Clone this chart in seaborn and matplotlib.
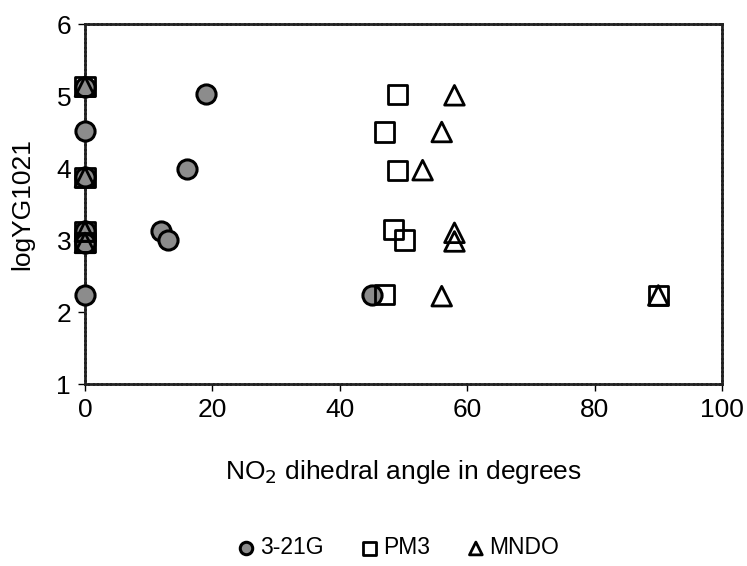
import matplotlib
matplotlib.use("Agg")
import matplotlib.pyplot as plt
import seaborn as sns
import pandas as pd

sns.set_style("white")
plt.rcParams['font.family'] = ['Liberation Sans', 'DejaVu Sans']
plt.rcParams['text.color'] = 'black'
plt.rcParams['axes.labelcolor'] = 'black'
plt.rcParams['xtick.color'] = 'black'
plt.rcParams['ytick.color'] = 'black'

# 3-21G
x_321g = [0, 0, 0, 0, 0, 0, 19, 16, 12, 13, 45]
y_321g = [5.13, 4.52, 3.87, 3.12, 2.96, 2.24, 5.03, 3.98, 3.13, 3.00, 2.24]
# PM3
x_pm3 = [0, 0, 0, 0, 49, 47, 49, 48.4, 50.2, 47, 90]
y_pm3 = [5.13, 3.87, 3.12, 2.96, 5.02, 4.50, 3.97, 3.14, 3.00, 2.24, 2.23]
# MNDO
x_mndo = [0, 0, 0, 0, 58, 56, 53, 58, 58, 56, 90]
y_mndo = [5.13, 3.87, 3.12, 2.96, 5.01, 4.50, 3.97, 3.10, 2.98, 2.22, 2.23]

series_names = ["3-21G", "PM3", "MNDO"]
x_ticks = [0, 20, 40, 60, 80, 100]
y_ticks = [1, 2, 3, 4, 5, 6]

df = pd.concat([
    pd.DataFrame({"x": x_321g, "y": y_321g, "method": series_names[0]}),
    pd.DataFrame({"x": x_pm3, "y": y_pm3, "method": series_names[1]}),
    pd.DataFrame({"x": x_mndo, "y": y_mndo, "method": series_names[2]}),
])

FS = 19
fig = plt.figure(figsize=(7.47, 5.66), dpi=100)
ax = fig.add_axes([85/747, 1-384/566, (722-85)/747, (384-24)/566])

styles = {
    "3-21G": dict(marker="o", s=190, facecolor="#8c8c8c", edgecolor="black", linewidth=2.2),
    "PM3": dict(marker="s", s=190, facecolor="none", edgecolor="black", linewidth=2.0),
    "MNDO": dict(marker="^", s=200, facecolor="none", edgecolor="black", linewidth=2.0),
}
for name in series_names:
    sub = df[df["method"] == name]
    sns.scatterplot(data=sub, x="x", y="y", ax=ax, label=name, zorder=3, clip_on=False,
                    **styles[name])

ax.set_xlim(0, 100)
ax.set_ylim(1, 6)
ax.set_xticks(x_ticks)
ax.set_yticks(y_ticks)
ax.tick_params(axis="both", labelsize=FS, direction="out", length=5, width=1,
               left=True, bottom=True, pad=5, colors="black")
for sp in ax.spines.values():
    sp.set_visible(True)
    sp.set_color("#222222")
    sp.set_linewidth(2)
    sp.set_linestyle((0, (1, 0.6)))

ax.set_xlabel("NO$_2$ dihedral angle in degrees", fontsize=FS, labelpad=26)
ax.set_ylabel("logYG1021", fontsize=FS, labelpad=16)

ax.get_legend().remove()
handles, labels = ax.get_legend_handles_labels()
fig.legend(handles, labels, loc="center", bbox_to_anchor=(0.53, 1-548/566), ncol=3,
           frameon=False, fontsize=16.5, handletextpad=0.0, columnspacing=1.4,
           markerscale=0.65, handlelength=1.2)

fig.savefig("out.png", dpi=100)
